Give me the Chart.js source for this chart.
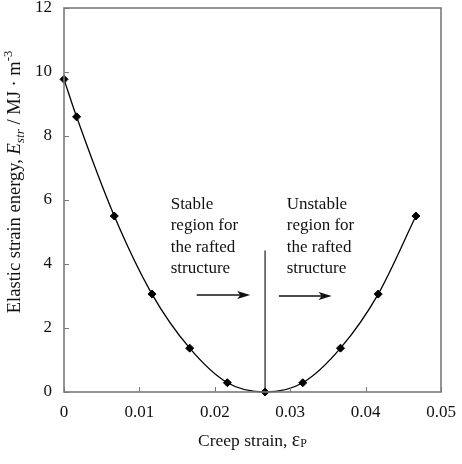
<!DOCTYPE html>
<html><head><meta charset="utf-8">
<script src="https://cdn.jsdelivr.net/npm/chart.js@4/dist/chart.umd.min.js"></script>
<style>html,body{margin:0;padding:0;background:#fff}#wrap{width:462px;height:464px}</style>
</head><body><div id="wrap"><canvas id="c" width="462" height="464"></canvas></div>
<script>
// ---- data ----
const creepStrain = [0, 0.00167, 0.00667, 0.01167, 0.01667, 0.02167, 0.02667, 0.03167, 0.03667, 0.04167, 0.04667];
const strainEnergy = [9.77, 8.6, 5.5, 3.06, 1.37, 0.29, 0, 0.29, 1.37, 3.06, 5.5];
const boundaryX = [0.02667, 0.02667];
const boundaryY = [0, 4.42];
const xTickLabels = ['0', '0.01', '0.02', '0.03', '0.04', '0.05'];
const yTickLabels = ['0', '2', '4', '6', '8', '10', '12'];
const stableText = ['Stable', 'region for', 'the rafted', 'structure'];
const unstableText = ['Unstable', 'region for', 'the rafted', 'structure'];

const SERIF = "'Liberation Serif', 'Times New Roman', serif";
const INK = '#111';

// annotation anchors (data units) and arrows (data units)
const stableAnchor = {x: 0.01415, y: 5.72};
const unstableAnchor = {x: 0.02954, y: 5.72};
const arrows = [
  {x0: 0.0176, x1: 0.0247, y: 3.03},
  {x0: 0.0285, x1: 0.0355, y: 3.0}
];

function drawRich(ctx, segs, baseSize) {
  let x = 0;
  for (const s of segs) {
    const size = baseSize * (s.scale || 1);
    ctx.font = (s.italic ? 'italic ' : '') + size + 'px ' + SERIF;
    ctx.fillText(s.t, x, (s.dy || 0) * baseSize);
    x += ctx.measureText(s.t).width;
  }
  return x;
}
function measureRich(ctx, segs, baseSize) {
  let w = 0;
  for (const s of segs) {
    const size = baseSize * (s.scale || 1);
    ctx.font = (s.italic ? 'italic ' : '') + size + 'px ' + SERIF;
    w += ctx.measureText(s.t).width;
  }
  return w;
}

const decor = {
  id: 'decor',
  afterDraw(chart) {
    const ctx = chart.ctx;
    const a = chart.chartArea;
    const xs = chart.scales.x, ys = chart.scales.y;
    ctx.save();
    // frame
    ctx.strokeStyle = '#7a7a7a';
    ctx.lineWidth = 1.6;
    ctx.strokeRect(a.left, a.top, a.right - a.left, a.bottom - a.top);
    // inward ticks
    ctx.lineWidth = 1;
    ctx.beginPath();
    xs.ticks.forEach(t => {
      const px = Math.round(xs.getPixelForValue(t.value)) + 0.5;
      ctx.moveTo(px, a.bottom); ctx.lineTo(px, a.bottom - 5);
    });
    ys.ticks.forEach(t => {
      const py = Math.round(ys.getPixelForValue(t.value)) + 0.5;
      ctx.moveTo(a.left, py); ctx.lineTo(a.left + 5, py);
    });
    ctx.stroke();

    // annotation text
    ctx.fillStyle = INK;
    ctx.font = '17px ' + SERIF;
    ctx.textAlign = 'left';
    ctx.textBaseline = 'alphabetic';
    const lh = 21.3;
    [[stableAnchor, stableText], [unstableAnchor, unstableText]].forEach(([an, lines]) => {
      const px = xs.getPixelForValue(an.x), py = ys.getPixelForValue(an.y);
      lines.forEach((l, i) => ctx.fillText(l, px, py + i * lh));
    });

    // arrows
    ctx.strokeStyle = INK;
    ctx.lineWidth = 1.5;
    arrows.forEach(ar => {
      const x0 = xs.getPixelForValue(ar.x0), x1 = xs.getPixelForValue(ar.x1), y = ys.getPixelForValue(ar.y);
      ctx.beginPath(); ctx.moveTo(x0, y); ctx.lineTo(x1 - 8, y); ctx.stroke();
      ctx.beginPath(); ctx.moveTo(x1, y); ctx.lineTo(x1 - 13, y - 4); ctx.lineTo(x1 - 10, y); ctx.lineTo(x1 - 13, y + 4); ctx.closePath(); ctx.fill();
    });

    // x axis title
    const xSegs = [{t: 'Creep strain, '}, {t: 'ε', scale: 1.15}, {t: 'P', scale: 0.68, dy: 0.05}];
    const xw = measureRich(ctx, xSegs, 17.5);
    ctx.save();
    ctx.translate((a.left + a.right) / 2 - xw / 2, 446);
    drawRich(ctx, xSegs, 17.5);
    ctx.restore();

    // y axis title
    const ySegs = [
      {t: 'Elastic strain energy, '},
      {t: 'E', italic: true},
      {t: 'str', italic: true, scale: 0.72, dy: 0.22},
      {t: ' / MJ · m'},
      {t: '-3', scale: 0.68, dy: -0.42}
    ];
    const yw = measureRich(ctx, ySegs, 18.5);
    ctx.save();
    ctx.translate(20, 182 + yw / 2);
    ctx.rotate(-Math.PI / 2);
    drawRich(ctx, ySegs, 18.5);
    ctx.restore();

    ctx.restore();
  }
};

new Chart(document.getElementById('c'), {
  type: 'scatter',
  data: {
    datasets: [
      {
        data: creepStrain.map((x, i) => ({x, y: strainEnergy[i]})),
        showLine: true,
        borderColor: '#000',
        borderWidth: 1.3,
        cubicInterpolationMode: 'monotone',
        pointStyle: 'rectRot',
        pointRadius: 4,
        pointBackgroundColor: '#000',
        pointBorderColor: '#000',
        pointBorderWidth: 1,
        clip: false
      },
      {
        data: boundaryX.map((x, i) => ({x, y: boundaryY[i]})),
        showLine: true,
        borderColor: '#555',
        borderWidth: 1.6,
        pointRadius: 0
      }
    ]
  },
  options: {
    responsive: false,
    animation: false,
    layout: {padding: {top: 8, right: 21, left: 0, bottom: 0}},
    plugins: {legend: {display: false}, tooltip: {enabled: false}},
    scales: {
      x: {
        type: 'linear', min: 0, max: 0.05,
        grid: {display: false, drawTicks: false},
        border: {display: false},
        ticks: {
          stepSize: 0.01, padding: 10, color: INK,
          font: {family: SERIF, size: 17},
          maxRotation: 0,
          callback: (v, i) => xTickLabels[i]
        },
        afterFit: s => { s.height = 72; s.paddingLeft = 0; s.paddingRight = 0; }
      },
      y: {
        type: 'linear', min: 0, max: 12,
        grid: {display: false, drawTicks: false},
        border: {display: false},
        ticks: {
          stepSize: 2, padding: 12, color: INK,
          font: {family: SERIF, size: 17},
          callback: (v, i) => yTickLabels[i]
        },
        afterFit: s => { s.width = 64; s.paddingTop = 0; s.paddingBottom = 0; }
      }
    }
  },
  plugins: [decor]
});
</script>
</body></html>
